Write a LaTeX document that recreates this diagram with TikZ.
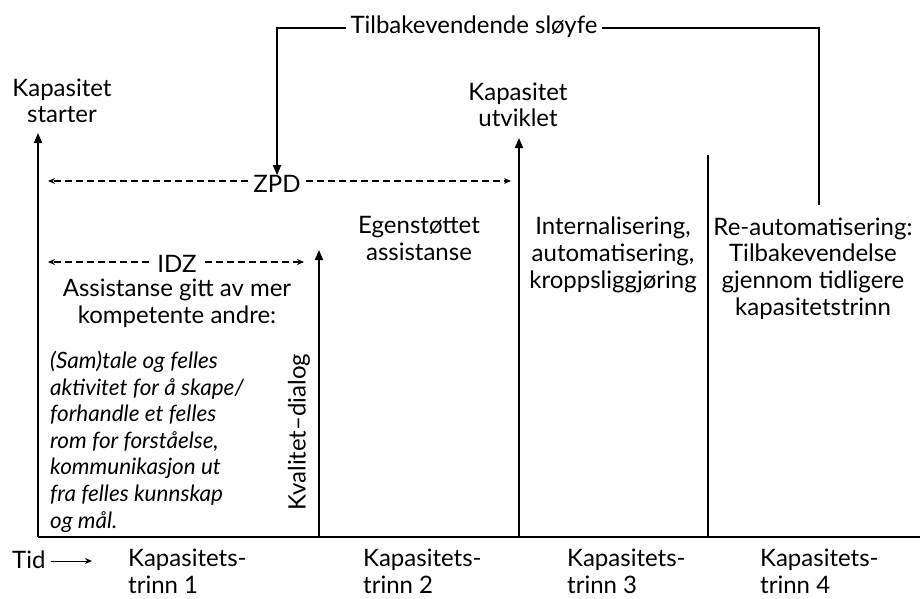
\documentclass[tikz,border=0pt]{standalone}
\usepackage{fontspec}
\setmainfont{Lato}
\usetikzlibrary{arrows.meta}
\begin{document}
\begin{tikzpicture}[x=1pt,y=-1pt,
  txt/.style={font=\fontsize{24}{26.6}\selectfont, align=center, inner sep=0pt},
  itxt/.style={font=\fontsize{22.5}{26.6}\selectfont\itshape, align=left, inner sep=0pt},
  axis/.style={line width=1.8pt, -{Triangle[length=10pt,width=8pt]}},
  plain/.style={line width=1.8pt},
  loopline/.style={line width=1.6pt},
  dashline/.style={line width=1.2pt, dash pattern=on 7pt off 4pt, -{Stealth[length=7pt,width=6pt]}},
]
\path[use as bounding box] (0,0) rectangle (920,599);

% axis coordinates
\coordinate (b1) at (38,537);
\coordinate (t1) at (38,133);
\coordinate (bend) at (920,537);
\coordinate (bq) at (319,537);
\coordinate (tq) at (319,250);
\coordinate (b2) at (519,537);
\coordinate (t2) at (519,138);
\coordinate (b3) at (708,537);
\coordinate (t3) at (708,155);

\draw[plain] (b1) -- (bend);
\draw[axis] (b1) -- (t1);
\draw[axis] (bq) -- (tq);
\draw[axis] (b2) -- (t2);
\draw[plain] (b3) -- (t3);

% top labels (anchor=base is the last line's baseline)
\node[txt, anchor=base] (start) at (62,123) {Kapasitet\\starter};
\node[txt, anchor=base] (utv) at (518,127) {Kapasitet\\utviklet};

% loop
\node[txt, anchor=base, inner xsep=4pt] (loop) at (474,34) {Tilbakevendende sløyfe};
\coordinate (l1) at (277,28);
\coordinate (l2) at (819,28);
\coordinate (l3) at (819,205);

% ZPD
\node[txt, inner xsep=5pt] (zpd) at (277,184) {ZPD};
\coordinate (zl) at (48,181);
\coordinate (zr) at (511,181);
\draw[dashline] (zpd.west |- zl) -- (zl);
\draw[dashline] (zpd.east |- zr) -- (zr);
\draw[loopline, -{Triangle[length=10pt,width=8pt]}] (loop.west |- l1) -- (l1) -- (zpd.north -| l1);
\draw[loopline] (loop.east |- l2) -- (l2) -- (l3);

% IDZ
\node[txt, inner xsep=8pt] (idz) at (177,264) {IDZ};
\coordinate (il) at (48,262);
\coordinate (ir) at (304,262);
\draw[dashline] (idz.west |- il) -- (il);
\draw[dashline] (idz.east |- ir) -- (ir);

% stage texts
\node[txt, anchor=base] (assist) at (177,323) {Assistanse gitt av mer\\kompetente andre:};
\node[itxt, anchor=base west] (sam) at (50,528) {(Sam)tale og felles\\aktivitet for å skape/\\forhandle et felles\\rom for forståelse,\\kommunikasjon ut\\fra felles kunnskap\\og mål.};
\node[txt, rotate=90] (kval) at (299,432) {Kvalitet--dialog};
\node[txt, anchor=base] (egen) at (419,260) {Egenstøttet\\assistanse};
\node[txt, anchor=base] (intern) at (613,288) {Internalisering,\\automatisering,\\kroppsliggjøring};
\node[txt, anchor=base] (reaut) at (813,315) {Re-automatisering:\\Tilbakevendelse\\gjennom tidligere\\kapasitetstrinn};

% bottom
\node[txt, anchor=base west] (tid) at (12,568) {Tid};
\coordinate (tidend) at (92,561);
\draw[line width=1pt, -{Stealth[length=7pt,width=6pt]}] ([xshift=5pt]tid.east |- tidend) -- (tidend);
\node[txt, anchor=base west, align=left] (k1) at (128,593) {Kapasitets-\\trinn 1};
\node[txt, anchor=base west, align=left] (k2) at (363,593) {Kapasitets-\\trinn 2};
\node[txt, anchor=base west, align=left] (k3) at (567,593) {Kapasitets-\\trinn 3};
\node[txt, anchor=base west, align=left] (k4) at (760,593) {Kapasitets-\\trinn 4};
\end{tikzpicture}
\end{document}
